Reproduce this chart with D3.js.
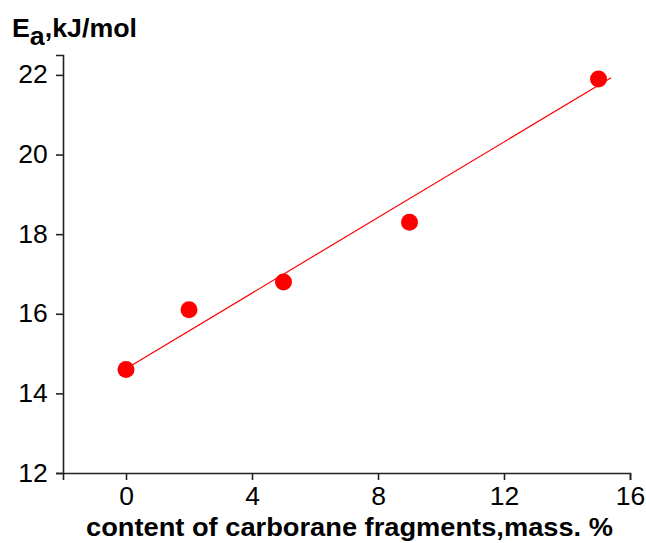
<!DOCTYPE html>
<html>
<head>
<meta charset="utf-8">
<script src="https://cdn.jsdelivr.net/npm/d3@7"></script>
<style>
  body { margin: 0; background: #fff; }
  svg { display: block; font-family: "Liberation Sans", Arial, sans-serif; }
  .axis path, .axis line { stroke: #222; stroke-width: 1.6; }
  .axis text {
    font-family: "Liberation Sans", Arial, sans-serif;
    font-size: 25px; fill: #000;
    transform-box: fill-box; transform-origin: center; transform: scaleX(1.06);
  }
</style>
</head>
<body>
<svg id="chart" width="646" height="543"></svg>
<script>
// content of carborane fragments, mass. %
var contentPct = [0, 2, 5, 9, 15];
// activation energy, kJ/mol
var energy = [14.6, 16.1, 16.8, 18.3, 21.9];
// straight fit line, ends
var fitX = [0, 15.4];
var fitY = [14.62, 21.93];
var xTicks = [0, 4, 8, 12, 16];
var yTicks = [12, 14, 16, 18, 20, 22];

var svg = d3.select("#chart");
var margin = {left: 63, right: 16, top: 55, bottom: 70};
var width = 646 - margin.left - margin.right;
var height = 543 - margin.top - margin.bottom;

var x = d3.scaleLinear().domain([-2, 16]).range([0, width]);
var y = d3.scaleLinear().domain([12, 22.5]).range([height, 0]);

var g = svg.append("g")
    .attr("transform", "translate(" + margin.left + "," + margin.top + ")");

// axes
g.append("g")
    .attr("class", "axis axis--x")
    .attr("transform", "translate(0," + height + ")")
    .call(d3.axisBottom(x).tickValues(xTicks).tickSizeOuter(0).tickSize(7).tickPadding(7));

g.append("g")
    .attr("class", "axis axis--y")
    .call(d3.axisLeft(y).tickValues(yTicks).tickSizeOuter(0).tickSize(7).tickPadding(9));

// fit line
g.append("line")
    .attr("x1", x(fitX[0])).attr("y1", y(fitY[0]))
    .attr("x2", x(fitX[1])).attr("y2", y(fitY[1]))
    .attr("stroke", "#ff0000")
    .attr("stroke-width", 1.2);

// points
g.selectAll(".dot")
    .data(contentPct)
  .enter().append("circle")
    .attr("class", "dot")
    .attr("cx", function(d) { return x(d); })
    .attr("cy", function(d, i) { return y(energy[i]); })
    .attr("r", 8.5)
    .attr("fill", "#ff0000");

// y title
var yt = svg.append("text")
    .attr("x", 12)
    .attr("y", 37)
    .attr("font-size", "25px")
    .attr("font-weight", "bold")
    .attr("textLength", 125)
    .attr("lengthAdjust", "spacingAndGlyphs");
yt.append("tspan").text("E");
yt.append("tspan").attr("dy", 8).text("a");
yt.append("tspan").attr("dy", -8).text(",kJ/mol");

// x title
svg.append("text")
    .attr("x", 86)
    .attr("y", 536)
    .attr("font-size", "25px")
    .attr("font-weight", "bold")
    .attr("textLength", 527)
    .attr("lengthAdjust", "spacingAndGlyphs")
    .text("content of carborane fragments,mass. %");
</script>
</body>
</html>
